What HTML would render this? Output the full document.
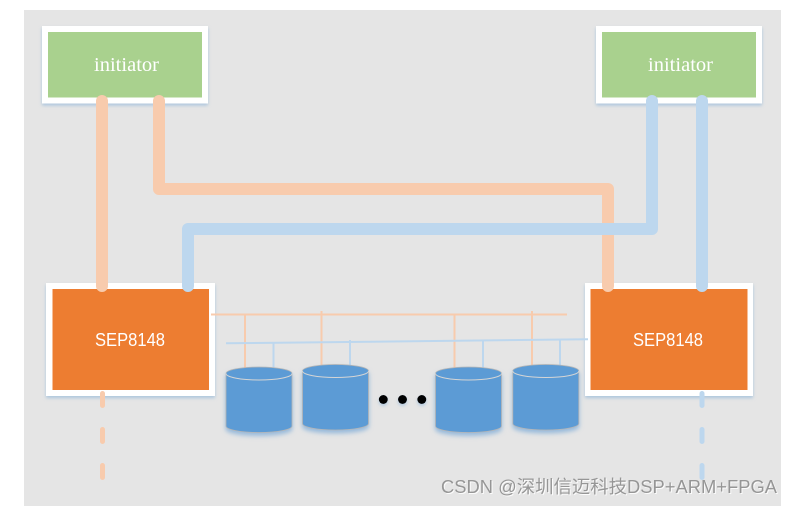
<!DOCTYPE html>
<html>
<head>
<meta charset="utf-8">
<style>
html,body{margin:0;padding:0;background:#fff;width:793px;height:506px;overflow:hidden}
svg{display:block}
</style>
</head>
<body>
<svg xmlns="http://www.w3.org/2000/svg" width="793" height="506" viewBox="0 0 793 506">
<defs>
<filter id="s" x="-20%" y="-20%" width="140%" height="140%"><feDropShadow dx="0" dy="2" stdDeviation="1.6" flood-color="#9dbddb" flood-opacity="0.8"/></filter>
<filter id="c" x="-20%" y="-20%" width="140%" height="140%"><feDropShadow dx="0" dy="3" stdDeviation="2.4" flood-color="#8db4da" flood-opacity="0.9"/></filter>
<filter id="d" x="-60%" y="-60%" width="220%" height="220%"><feDropShadow dx="0" dy="2" stdDeviation="1.5" flood-color="#9dbddb" flood-opacity="0.7"/></filter>
</defs>
<rect x="24" y="10" width="757" height="496" fill="#e5e5e5"/>

<!-- initiators -->
<rect x="42" y="26" width="166" height="77.500" fill="#fff" filter="url(#s)"/>
<rect x="48" y="32" width="154" height="65.500" fill="#a9d18e"/>
<text x="94" y="71" font-family="'Liberation Serif',serif" font-size="20" fill="#fff" textLength="65" lengthAdjust="spacingAndGlyphs">initiator</text>
<rect x="596" y="26" width="166" height="77.500" fill="#fff" filter="url(#s)"/>
<rect x="602" y="32" width="154" height="65.500" fill="#a9d18e"/>
<text x="648" y="71" font-family="'Liberation Serif',serif" font-size="20" fill="#fff" textLength="65" lengthAdjust="spacingAndGlyphs">initiator</text>

<!-- SEP boxes -->
<rect x="46" y="283" width="169" height="113" fill="#fff" filter="url(#s)"/>
<rect x="52.500" y="289" width="156.500" height="101" fill="#ed7d31"/>
<text x="95" y="346" font-family="'Liberation Sans',sans-serif" font-size="18" fill="#fff" textLength="70" lengthAdjust="spacingAndGlyphs">SEP8148</text>
<rect x="585" y="283" width="168" height="113" fill="#fff" filter="url(#s)"/>
<rect x="590.500" y="289" width="157" height="101" fill="#ed7d31"/>
<text x="633" y="346" font-family="'Liberation Sans',sans-serif" font-size="18" fill="#fff" textLength="70" lengthAdjust="spacingAndGlyphs">SEP8148</text>

<!-- thick links -->
<g fill="none" stroke-width="12" stroke-linecap="round" stroke-linejoin="round">
<path d="M102 101V286" stroke="#f8cbad"/>
<path d="M159 101V189H608V286" stroke="#f8cbad"/>
<path d="M188 286V229H652V101" stroke="#bdd7ee"/>
<path d="M702 101V286" stroke="#bdd7ee"/>
</g>

<!-- dashed stubs -->
<g fill="none" stroke-width="5" stroke-linecap="round">
<path d="M102.500 393.500V405.500M102.500 429.500V441.500M102.500 465.500V477.500" stroke="#f8cbad"/>
<path d="M702 393.500V405.500M702 429.500V441.500M702 465.500V477.500" stroke="#bdd7ee"/>
</g>

<!-- buses -->
<g fill="none" stroke-width="2">
<path d="M211 314.500H567" stroke="#f8cbad"/>
<path d="M245 314V368M321.500 311V366M454.500 314V368M532 311V366" stroke="#f8cbad"/>
<path d="M226 343.300L588 339.300" stroke="#bdd7ee"/>
<path d="M273.500 343V368M350 340V366M483 341V368M560 340V366" stroke="#bdd7ee"/>
</g>

<!-- cylinders -->
<g>
<g filter="url(#c)">
<path d="M226 373.500A33 6.500 0 0 1 292 373.500V426A33 6.500 0 0 1 226 426Z" fill="#5b9bd5" stroke="#b5b5b5" stroke-width="0.800"/>
<path d="M226 373.500A33 6.500 0 0 0 292 373.500" fill="none" stroke="#d5d5d5" stroke-width="1"/>
</g>
<g filter="url(#c)">
<path d="M302.500 371A33 6.500 0 0 1 368.500 371V423.500A33 6.500 0 0 1 302.500 423.500Z" fill="#5b9bd5" stroke="#b5b5b5" stroke-width="0.800"/>
<path d="M302.500 371A33 6.500 0 0 0 368.500 371" fill="none" stroke="#d5d5d5" stroke-width="1"/>
</g>
<g filter="url(#c)">
<path d="M435.500 373.500A33 6.500 0 0 1 501.500 373.500V426A33 6.500 0 0 1 435.500 426Z" fill="#5b9bd5" stroke="#b5b5b5" stroke-width="0.800"/>
<path d="M435.500 373.500A33 6.500 0 0 0 501.500 373.500" fill="none" stroke="#d5d5d5" stroke-width="1"/>
</g>
<g filter="url(#c)">
<path d="M512.800 371A33 6.500 0 0 1 578.800 371V423.500A33 6.500 0 0 1 512.800 423.500Z" fill="#5b9bd5" stroke="#b5b5b5" stroke-width="0.800"/>
<path d="M512.800 371A33 6.500 0 0 0 578.800 371" fill="none" stroke="#d5d5d5" stroke-width="1"/>
</g>
</g>

<!-- dots -->
<circle cx="383.300" cy="399.500" r="4.500" fill="#000" filter="url(#d)"/>
<circle cx="402.500" cy="399.500" r="4.500" fill="#000" filter="url(#d)"/>
<circle cx="421.800" cy="399.500" r="4.500" fill="#000" filter="url(#d)"/>

<!-- watermark -->
<text x="442" y="494" font-family="'Liberation Sans','Noto Sans CJK SC',sans-serif" font-size="18" fill="#fff" opacity="0.9" textLength="336" lengthAdjust="spacingAndGlyphs">CSDN @深圳信迈科技DSP+ARM+FPGA</text>
<text x="441" y="493" font-family="'Liberation Sans','Noto Sans CJK SC',sans-serif" font-size="18" fill="#969696" textLength="336" lengthAdjust="spacingAndGlyphs">CSDN @深圳信迈科技DSP+ARM+FPGA</text>
</svg>
</body>
</html>
